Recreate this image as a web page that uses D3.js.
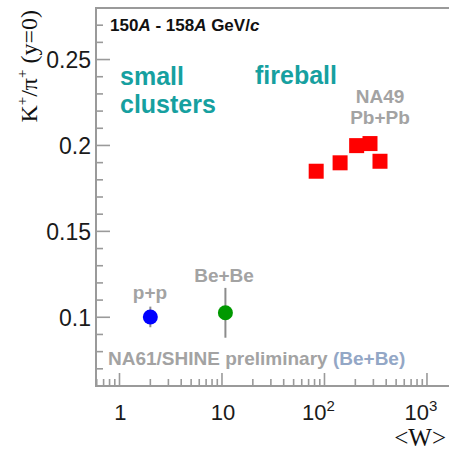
<!DOCTYPE html>
<html>
<head>
<meta charset="utf-8">
<script src="https://cdn.jsdelivr.net/npm/d3@7"></script>
<style>
  html, body { margin: 0; padding: 0; background: #fff; }
  svg { display: block; }
</style>
</head>
<body>
<svg id="chart" width="449" height="451"></svg>
<script>
// NA49 Pb+Pb centrality classes: <W> and K+/pi+ at mid-rapidity
const pbpbW     = [83, 142, 206, 278, 348];
const pbpbRatio = [0.185, 0.1899, 0.1999, 0.2011, 0.1908];

// NA61/SHINE points (p+p and preliminary Be+Be)
const smallSystems = ["p+p", "Be+Be"];
const smallW       = [2, 10.8];
const smallRatio   = [0.1002, 0.1026];
const smallErr     = [0.006, 0.0145];
const smallColors  = ["#0000ff", "#009900"];

// Axis ticks
const yTicks = [0.1, 0.15, 0.2, 0.25];
const yTickLabels = ["0.1", "0.15", "0.2", "0.25"];
const xMajor = [1, 10, 100, 1000];
const xMajorLabels = [["1", ""], ["10", ""], ["10", "2"], ["10", "3"]];

const W = 449, H = 451;
const margin = { left: 96, right: 0, top: 8, bottom: 65 };

const svg = d3.select("#chart");
const sans = "'Liberation Sans', Arial, Helvetica, sans-serif";
const serif = "'Liberation Serif', 'Times New Roman', serif";
const axisColor = "#9a9a9a";

const x = d3.scaleLog().domain([0.59, 1640]).range([margin.left, W - margin.right]);
const y = d3.scaleLinear().domain([0.06, 0.28]).range([H - margin.bottom, margin.top]);

const x0 = x.range()[0], x1 = x.range()[1];
const y0 = y.range()[0], y1 = y.range()[1];

// Frame: left axis, bottom axis, top border
const frame = svg.append("g").attr("stroke", axisColor).attr("stroke-width", 2).attr("fill", "none");
frame.append("line").attr("x1", x0).attr("x2", x0).attr("y1", y0 + 1).attr("y2", y1 - 1);
frame.append("line").attr("x1", x0 - 1).attr("x2", x1).attr("y1", y0).attr("y2", y0);
frame.append("line").attr("x1", x0 - 1).attr("x2", x1).attr("y1", y1).attr("y2", y1);

// Y ticks: majors every 0.05, minors every 0.01, drawn inward
const yMinor = d3.range(7, 28).map(v => v / 100).filter(v => v >= 0.06 && v <= 0.28);
const yt = svg.append("g").attr("stroke", axisColor).attr("stroke-width", 1.6);
yMinor.forEach(v => {
  const isMajor = yTicks.some(t => Math.abs(t - v) < 1e-9);
  yt.append("line")
    .attr("x1", x0).attr("x2", x0 + (isMajor ? 14 : 7))
    .attr("y1", y(v)).attr("y2", y(v));
});

// X ticks: decades and 2..9 minors, drawn inward
const xt = svg.append("g").attr("stroke", axisColor).attr("stroke-width", 1.6);
const xDomain = x.domain();
for (let e = -1; e <= 3; e++) {
  for (let m = 1; m <= 9; m++) {
    const v = m * Math.pow(10, e);
    if (v < xDomain[0] || v > xDomain[1]) continue;
    const len = m === 1 ? 13 : 7;
    xt.append("line")
      .attr("x1", x(v)).attr("x2", x(v))
      .attr("y1", y0).attr("y2", y0 - len);
  }
}

// Y tick labels
svg.append("g").selectAll("text").data(yTicks).join("text")
  .attr("x", x0 - 5)
  .attr("y", d => y(d))
  .attr("dy", "0.36em")
  .attr("text-anchor", "end")
  .attr("font-family", sans)
  .attr("font-size", 23)
  .attr("fill", "#1a1a1a")
  .text((d, i) => yTickLabels[i]);

// X tick labels (10^n with superscript exponent)
const xl = svg.append("g").attr("font-family", sans).attr("fill", "#1a1a1a");
xMajor.forEach((v, i) => {
  const [base, exp] = xMajorLabels[i];
  const t = xl.append("text")
    .attr("x", x(v) + (exp ? -6 : 1))
    .attr("y", y0 + 34)
    .attr("text-anchor", "middle")
    .attr("font-size", 22);
  t.append("tspan").text(base);
  if (exp) {
    t.append("tspan").attr("font-size", 15).attr("dy", -9).text(exp);
  }
});

// Axis titles
svg.append("text")
  .attr("x", W - 3).attr("y", H - 5)
  .attr("text-anchor", "end")
  .attr("font-family", serif).attr("font-size", 25)
  .attr("fill", "#111")
  .text("<W>");

const yTitle = svg.append("text")
  .attr("transform", `translate(37, 10) rotate(-90)`)
  .attr("text-anchor", "end")
  .attr("font-family", serif).attr("font-size", 24)
  .attr("fill", "#111");
yTitle.append("tspan").text("K");
yTitle.append("tspan").attr("font-size", 15).attr("dy", -10).text("+");
yTitle.append("tspan").attr("dy", 10).text("/\u03c0");
yTitle.append("tspan").attr("font-size", 15).attr("dy", -10).text("+");
yTitle.append("tspan").attr("dy", 10).text(" (y=0)");

// Energy label
const title = svg.append("text")
  .attr("x", 110).attr("y", 31)
  .attr("font-family", sans).attr("font-weight", "bold").attr("font-size", 17)
  .attr("fill", "#111");
title.append("tspan").text("150");
title.append("tspan").attr("font-style", "italic").text("A");
title.append("tspan").text(" - 158");
title.append("tspan").attr("font-style", "italic").text("A");
title.append("tspan").text(" GeV/");
title.append("tspan").attr("font-style", "italic").text("c");

// Regime labels
const teal = "#16a0a0";
const regime = svg.append("g")
  .attr("font-family", sans).attr("font-weight", "bold").attr("font-size", 25).attr("fill", teal);
regime.append("text").attr("x", 120).attr("y", 85).text("small");
regime.append("text").attr("x", 120).attr("y", 113).text("clusters");
regime.append("text").attr("x", 255).attr("y", 84).text("fireball");

// Grey annotations
const grey = "#a3a3a3";
const ann = svg.append("g")
  .attr("font-family", sans).attr("font-weight", "bold").attr("font-size", 19).attr("fill", grey);
ann.append("text").attr("x", 380).attr("y", 103).attr("text-anchor", "middle").text("NA49");
ann.append("text").attr("x", 380).attr("y", 124).attr("text-anchor", "middle").text("Pb+Pb");
ann.append("text").attr("x", 150).attr("y", 299).attr("text-anchor", "middle").text(smallSystems[0]);
ann.append("text").attr("x", 224).attr("y", 282).attr("text-anchor", "middle").text(smallSystems[1]);
const prelim = ann.append("text").attr("x", 108).attr("y", 365);
prelim.append("tspan").text("NA61/SHINE preliminary ");
prelim.append("tspan").attr("fill", "#93a7c6").text("(Be+Be)");

// NA61/SHINE error bars and points
const small = smallW.map((w, i) => ({ w, r: smallRatio[i], e: smallErr[i], c: smallColors[i] }));
svg.append("g").selectAll("line").data(small).join("line")
  .attr("x1", d => x(d.w)).attr("x2", d => x(d.w))
  .attr("y1", d => y(d.r - d.e)).attr("y2", d => y(d.r + d.e))
  .attr("stroke", "#8c8c8c").attr("stroke-width", 2);
svg.append("g").selectAll("circle").data(small).join("circle")
  .attr("cx", d => x(d.w)).attr("cy", d => y(d.r))
  .attr("r", 7.5)
  .attr("fill", d => d.c);

// NA49 Pb+Pb squares
const sq = 15;
svg.append("g").selectAll("rect").data(pbpbW.map((w, i) => ({ w, r: pbpbRatio[i] }))).join("rect")
  .attr("x", d => x(d.w) - sq / 2).attr("y", d => y(d.r) - sq / 2)
  .attr("width", sq).attr("height", sq)
  .attr("fill", "#ff0000");
</script>
</body>
</html>
